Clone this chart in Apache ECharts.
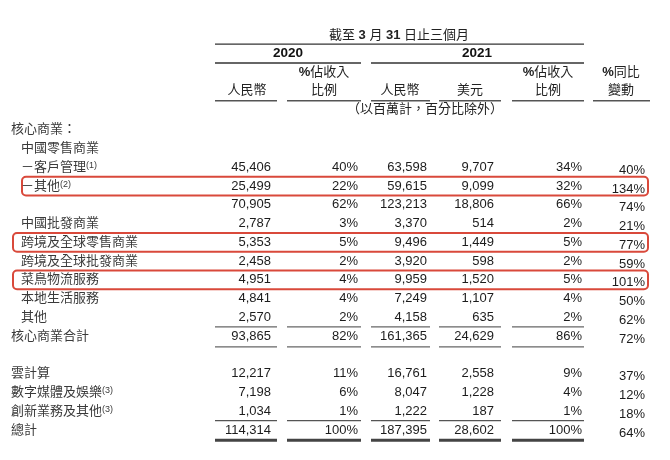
<!DOCTYPE html>
<html><head><meta charset="utf-8">
<script src="https://cdn.jsdelivr.net/npm/echarts@6.0.0/dist/echarts.min.js"></script>
<style>html,body{margin:0;padding:0;background:#fff}#c{width:670px;height:460px}</style>
</head><body><div id="c"></div>
<script>
// ---------- DATA ----------
const periodTitle = '截至 {b|3} 月 {b|31} 日止三個月';
const years = ['2020', '2021'];
const colHeadTop = ['', '{b|%}佔收入', '', '', '{b|%}佔收入', '{b|%}同比'];
const colHeadBottom = ['人民幣', '比例', '人民幣', '美元', '比例', '變動'];
const unitNote = '（以百萬計，百分比除外）';

const rowLabels = ['核心商業：', '中國零售商業', '－客戶管理{sup|(1)}', '－其他{sup|(2)}', '', '中國批發商業',
  '跨境及全球零售商業', '跨境及全球批發商業', '菜鳥物流服務', '本地生活服務', '其他', '核心商業合計', '',
  '雲計算', '數字媒體及娛樂{sup|(3)}', '創新業務及其他{sup|(3)}', '總計'];
const rmb2020 = [null, null, 45406, 25499, 70905, 2787, 5353, 2458, 4951, 4841, 2570, 93865, null, 12217, 7198, 1034, 114314];
const pct2020 = [null, null, 40, 22, 62, 3, 5, 2, 4, 4, 2, 82, null, 11, 6, 1, 100];
const rmb2021 = [null, null, 63598, 59615, 123213, 3370, 9496, 3920, 9959, 7249, 4158, 161365, null, 16761, 8047, 1222, 187395];
const usd2021 = [null, null, 9707, 9099, 18806, 514, 1449, 598, 1520, 1107, 635, 24629, null, 2558, 1228, 187, 28602];
const pct2021 = [null, null, 34, 32, 66, 2, 5, 2, 5, 4, 2, 86, null, 9, 4, 1, 100];
const yoyChange = [null, null, 40, 134, 74, 21, 77, 59, 101, 50, 62, 72, null, 37, 12, 18, 64];
const highlightRows = [3, 6, 8];

// ---------- LAYOUT ----------
const rowIndent = [0, 1, 1, 1, 1, 1, 1, 1, 1, 1, 1, 0, 0, 0, 0, 0, 0];
const indentX = [11, 21];
const colLeft = [215, 287, 371, 439, 512, 593];
const colRight = [277, 361, 430, 501, 584, 650];
const textRight = [271, 358, 427, 494, 582, 645];
const colCenter = [247, 324, 400, 470, 548, 621];
const yearCenter = [288, 477];
const boxLeft = [22, 13, 13];
const FONT = "'Liberation Sans', 'Noto Sans CJK TC', sans-serif";

const columns = [
  {vals: rmb2020, pct: false}, {vals: pct2020, pct: true}, {vals: rmb2021, pct: false},
  {vals: usd2021, pct: false}, {vals: pct2021, pct: true}, {vals: yoyChange, pct: true}
];

// ---------- BUILD CELLS ----------
const cells = [];
function addText(x, row, text, align, fill, bold, size) {
  cells.push({x, row, text, align, fill, bold, size: size || 13});
}
addText(399, -5.05, periodTitle, 'center', '#222', false);
years.forEach((y, i) => addText(yearCenter[i], -4.1, y, 'center', '#111', true, 13.5));
colHeadTop.forEach((t, i) => { if (t) addText(colCenter[i], -3.05, t, 'center', '#222', false); });
colHeadBottom.forEach((t, i) => addText(colCenter[i], -2.12, t, 'center', '#222', false));
addText(425, -1.08, unitNote, 'center', '#222', false);
rowLabels.forEach((t, r) => { if (t) addText(indentX[rowIndent[r]], r, t, 'left', '#3a3a3a', false); });
columns.forEach((c, ci) => {
  c.vals.forEach((v, r) => {
    if (v == null) return;
    const s = c.pct ? v + '%' : v.toLocaleString('en-US');
    addText(textRight[ci], r + (ci === 5 ? 0.16 : 0), s, 'right', '#1c1c1c', false);
  });
});

// ---------- RULES ----------
const rules = [];
rules.push({x0: colLeft[0], x1: colRight[4], row: -4.57, w: 1.3, color: '#333'});
rules.push({x0: colLeft[0], x1: colRight[1], row: -3.56, w: 1.3, color: '#333'});
rules.push({x0: colLeft[2], x1: colRight[4], row: -3.56, w: 1.3, color: '#333'});
for (let i = 0; i < 6; i++) rules.push({x0: colLeft[i], x1: colRight[i], row: -1.55, w: 1.5, color: '#555'});
for (let i = 0; i < 5; i++) {
  rules.push({x0: colLeft[i], x1: colRight[i], row: 10.5, w: 1.3, color: '#666'});
  rules.push({x0: colLeft[i], x1: colRight[i], row: 11.57, w: 1.3, color: '#666'});
  rules.push({x0: colLeft[i], x1: colRight[i], row: 15.5, w: 1.3, color: '#555'});
  rules.push({x0: colLeft[i], x1: colRight[i], row: 16.55, w: 3, color: '#444'});
}

const boxes = highlightRows.map((r, i) => ({x0: boxLeft[i], x1: 648, row: r}));

const RICH = {
  b: {fontWeight: 'bold', fontSize: 13, fontFamily: FONT},
  sup: {fontSize: 9, fontFamily: FONT, verticalAlign: 'top'}
};

const chart = echarts.init(document.getElementById('c'), null, {renderer: 'canvas'});
chart.setOption({
  animation: false,
  backgroundColor: '#fff',
  grid: {left: 0, right: 0, top: 36, bottom: 30},
  xAxis: {type: 'value', min: 0, max: 670, show: false},
  yAxis: {type: 'value', min: -5, max: 16, inverse: true, show: false},
  series: [
    {
      type: 'custom', clip: false, silent: true,
      data: boxes.map(b => [b.x0, b.row]),
      renderItem: (params, api) => {
        const b = boxes[params.dataIndex];
        const p0 = api.coord([b.x0, b.row - 0.5]);
        const p1 = api.coord([b.x1, b.row + 0.5]);
        return {type: 'rect', shape: {x: p0[0], y: p0[1], width: p1[0] - p0[0], height: p1[1] - p0[1], r: 4},
          style: {fill: 'none', stroke: '#d9493b', lineWidth: 2}};
      }
    },
    {
      type: 'custom', clip: false, silent: true,
      data: rules.map(r => [r.x0, r.row]),
      renderItem: (params, api) => {
        const r = rules[params.dataIndex];
        const p0 = api.coord([r.x0, r.row]);
        const p1 = api.coord([r.x1, r.row]);
        return {type: 'line', shape: {x1: p0[0], y1: p0[1], x2: p1[0], y2: p1[1]},
          style: {stroke: r.color, lineWidth: r.w}};
      }
    },
    {
      type: 'custom', clip: false, silent: true,
      data: cells.map(c => [c.x, c.row]),
      renderItem: (params, api) => {
        const c = cells[params.dataIndex];
        const p = api.coord([c.x, c.row]);
        return {type: 'text', x: p[0], y: p[1],
          style: {text: c.text, align: c.align, verticalAlign: 'middle', fill: c.fill,
            fontSize: c.size, fontFamily: FONT, fontWeight: c.bold ? 'bold' : 'normal', rich: RICH}};
      }
    }
  ]
});
</script>
</body></html>
